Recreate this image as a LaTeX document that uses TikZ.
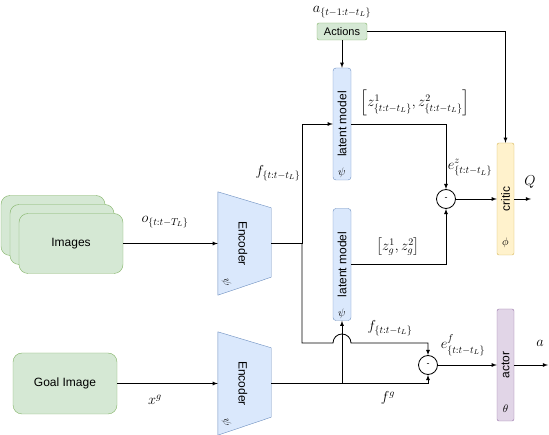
\documentclass[tikz,border=0pt]{standalone}
\usepackage[no-math]{fontspec}
\setsansfont{Liberation Sans}
\usepackage{tikz}
\usetikzlibrary{positioning}
\usetikzlibrary{backgrounds}
\usepackage{amsmath}
\definecolor{greenfill}{HTML}{D5E8D4}
\definecolor{greenline}{HTML}{82B366}
\definecolor{bluefill}{HTML}{DAE8FC}
\definecolor{blueline}{HTML}{6C8EBF}
\definecolor{yellowfill}{HTML}{FFF2CC}
\definecolor{yellowline}{HTML}{D6B656}
\definecolor{purplefill}{HTML}{E1D5E7}
\definecolor{purpleline}{HTML}{9673A6}
\tikzset{
	imgbox/.style={draw=greenline, fill=greenfill, rounded corners=9pt, minimum width=104pt, minimum height=60pt, font=\sffamily\fontsize{12}{14}\selectfont},
	encoder/.style={inner sep=0pt, minimum width=53pt, minimum height=103pt},
	enctext/.style={rotate=-90, inner sep=0pt, font=\sffamily\fontsize{12}{14}\selectfont},
	latent/.style={draw=blueline, fill=bluefill, rounded corners=3pt, rotate=90, inner sep=0pt, minimum width=112pt, minimum height=18pt, font=\sffamily\fontsize{12}{14}\selectfont},
	critic/.style={draw=yellowline, fill=yellowfill, rounded corners=2pt, rotate=90, inner sep=0pt, minimum width=112pt, minimum height=17pt, font=\sffamily\fontsize{12}{14}\selectfont},
	actor/.style={draw=purpleline, fill=purplefill, rounded corners=2pt, rotate=90, inner sep=0pt, minimum width=112pt, minimum height=17pt, font=\sffamily\fontsize{12}{14}\selectfont},
	diff/.style={draw, thick, circle, inner sep=0pt, minimum size=19pt, font=\sffamily\fontsize{9}{10}\selectfont},
	% greek letters inside the boxes
	param/.style={inner sep=0pt, font=\fontsize{11}{12}\selectfont},
	% math labels on the connectors
	lbl/.style={inner sep=1pt, font=\fontsize{14}{16}\selectfont},
}
\begin{document}
\begin{tikzpicture}[x=1pt, y=1pt]
	\useasboundingbox (0,0) rectangle (549,-435);
	
	\node (img3) [imgbox] at (53,-225.5) {};
	\node (img2) [imgbox] at (62,-234.5) {};
	\node (img) [imgbox] at (71,-243.5) {Images};
	\node (goal) [imgbox, minimum height=61pt] at (65,-383.5) {Goal Image};
	\node (act) [draw=greenline, fill=greenfill, rounded corners=2pt, inner sep=0pt, minimum width=50pt, minimum height=17pt, font=\sffamily\fontsize{11}{13}\selectfont] at (342,-31.5) {Actions};
	
	\node (enc1) [encoder] at (244.5,-243.5) {};
	\node (enc2) [encoder] at (244.5,-383.5) {};
	\begin{scope}[on background layer]
		\draw[blueline, fill=bluefill] (enc1.north west) -- ([yshift=-16pt]enc1.north east) -- ([yshift=18pt]enc1.south east) -- (enc1.south west) -- cycle;
		\draw[blueline, fill=bluefill] (enc2.north west) -- ([yshift=-16pt]enc2.north east) -- ([yshift=18pt]enc2.south east) -- (enc2.south west) -- cycle;
	\end{scope}
	\node (enc1txt) [enctext] at (243,-243.5) {Encoder};
	\node (enc2txt) [enctext] at (243,-383.5) {Encoder};
	\node (enc1psi) [param, rotate=-90] at (226.5,-282.5) {$\psi$};
	\node (enc2psi) [param, rotate=-90] at (226.5,-422.5) {$\psi$};
	
	\node (lm1) [latent] at (342,-124) {latent model};
	\node (lm2) [latent] at (342,-264.5) {latent model};
	\node (lm1psi) [param] at (342,-173) {$\psi$};
	\node (lm2psi) [param] at (342,-313.5) {$\psi$};
	
	\node (critic) [critic] at (505.5,-199) {critic};
	\node (phi) [param] at (505.5,-243) {$\phi$};
	\node (actor) [actor] at (505.5,-365) {actor};
	\node (theta) [param] at (505.5,-409) {$\theta$};
	
	\node (diff1) [diff] at (446,-199) {-};
	\node (diff2) [diff] at (428,-365) {-};
	
	\coordinate (j1) at (302,-243.5);
	\coordinate (j2) at (342,-383.5);
	\coordinate (hop) at (333,-343);
	\coordinate (qout) at (531,-199);
	\coordinate (aout) at (548,-365);
	
	\node (alab) [lbl] at (342,-12) {$a_{\{t-1:t-t_L\}}$};
	\node (olab) [lbl] at (165,-222) {$o_{\{t:t-T_L\}}$};
	\node (flab1) [lbl] at (278,-173) {$f_{\{t:t-t_L\}}$};
	\node (zlab) [lbl] at (415,-103) {$\left[z^1_{\{t:t-t_L\}}, z^2_{\{t:t-t_L\}}\right]$};
	\node (ezlab) [lbl] at (470,-168) {$e^z_{\{t:t-t_L\}}$};
	\node (qlab) [lbl] at (530,-182) {$Q$};
	\node (zglab) [lbl] at (398,-247) {$\left[z^1_g, z^2_g\right]$};
	\node (flab2) [lbl] at (390,-328) {$f_{\{t:t-t_L\}}$};
	\node (eflab) [lbl] at (463,-345) {$e^f_{\{t:t-t_L\}}$};
	\node (alab2) [lbl] at (540,-343) {$a$};
	\node (fglab) [lbl] at (388,-398) {$f^g$};
	\node (xglab) [lbl] at (155,-400) {$x^g$};
	
	\begin{scope}[thick, black, ->, >=latex]
		\draw (img) -- (enc1.west);
		\draw (goal) -- (enc2.west);
		\draw (enc1.east) -- (j1) |- (lm1);
		\draw (j1) |- (hop) arc (180:0:9) -| (diff2);
		\draw (enc2.east) -| (diff2);
		\draw (j2) -- (lm2);
		\draw (act) -- (lm1);
		\draw (act) -| (critic);
		\draw (lm1) -| (diff1);
		\draw (lm2) -| (diff1);
		\draw (diff1) -- (critic);
		\draw (critic) -- (qout);
		\draw (diff2) -- (actor);
		\draw (actor) -- (aout);
	\end{scope}
	
\end{tikzpicture}
\end{document}
